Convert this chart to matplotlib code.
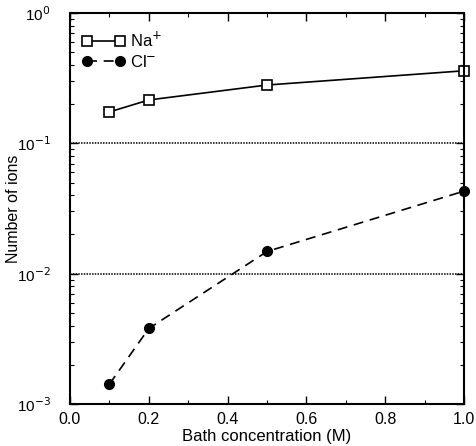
import numpy as np
import matplotlib
matplotlib.use("Agg")
from matplotlib import pyplot as plt
from matplotlib.ticker import MultipleLocator, LogLocator, NullFormatter, FormatStrFormatter, FixedLocator, FixedFormatter

plt.rcParams['font.family'] = ['Liberation Sans', 'DejaVu Sans']

conc = [0.1, 0.2, 0.5, 1.0]
na_ions = [0.174, 0.215, 0.28, 0.36]
cl_ions = [0.00142, 0.0038, 0.0148, 0.043]
ref_levels = [0.1, 0.01]

fig = plt.figure(figsize=(4.76, 4.46), dpi=100)
ax = fig.add_axes([0.147, 0.094, 0.828, 0.877])

for lev in ref_levels:
    ax.axhline(lev, color='black', linestyle=(0, (1, 0.8)), linewidth=1.1)

ax.plot(conc, na_ions, color='black', linewidth=1.2, marker='s', markersize=7,
        markerfacecolor='white', markeredgecolor='black', markeredgewidth=1.2,
        label='Na$^{+}$', clip_on=False)
ax.plot(conc, cl_ions, color='black', linewidth=1.2, linestyle=(0, (6, 4)),
        marker='o', markersize=7, markerfacecolor='black',
        label='Cl$^{-}$', clip_on=False)

ax.set_yscale('log')
ax.set_xlim(0.0, 1.0)
ax.set_ylim(1e-3, 1e0)
ax.xaxis.set_major_locator(MultipleLocator(0.2))
ax.xaxis.set_minor_locator(MultipleLocator(0.1))
ax.xaxis.set_major_formatter(FormatStrFormatter('%.1f'))
ax.yaxis.set_major_locator(FixedLocator([1e-3, 1e-2, 1e-1, 1e0]))
ax.yaxis.set_major_formatter(FixedFormatter(['10$^{-3}$', '10$^{-2}$', '10$^{-1}$', '10$^{0}$']))
ax.yaxis.set_minor_locator(LogLocator(base=10, subs=np.arange(2, 10)))
ax.yaxis.set_minor_formatter(NullFormatter())

ax.tick_params(which='both', direction='in', top=True, right=True)
ax.tick_params(axis='x', labelsize=11.5, pad=6)
ax.tick_params(axis='y', labelsize=11, pad=14)
ax.tick_params(which='major', length=6, width=1)
ax.tick_params(which='minor', length=3, width=0.8)
for s in ax.spines.values():
    s.set_linewidth(1.5)

ax.set_xlabel('Bath concentration (M)', fontsize=12, labelpad=1)
ax.set_ylabel('Number of ions', fontsize=11.5)
ax.yaxis.set_label_coords(-0.125, 0.5)

ax.legend(loc='upper left', bbox_to_anchor=(0.0, 0.985), frameon=False,
          fontsize=12, numpoints=2, handlelength=2.6, handletextpad=0.3,
          labelspacing=0.25, borderaxespad=0.3)

fig.savefig('out.png', dpi=100)
